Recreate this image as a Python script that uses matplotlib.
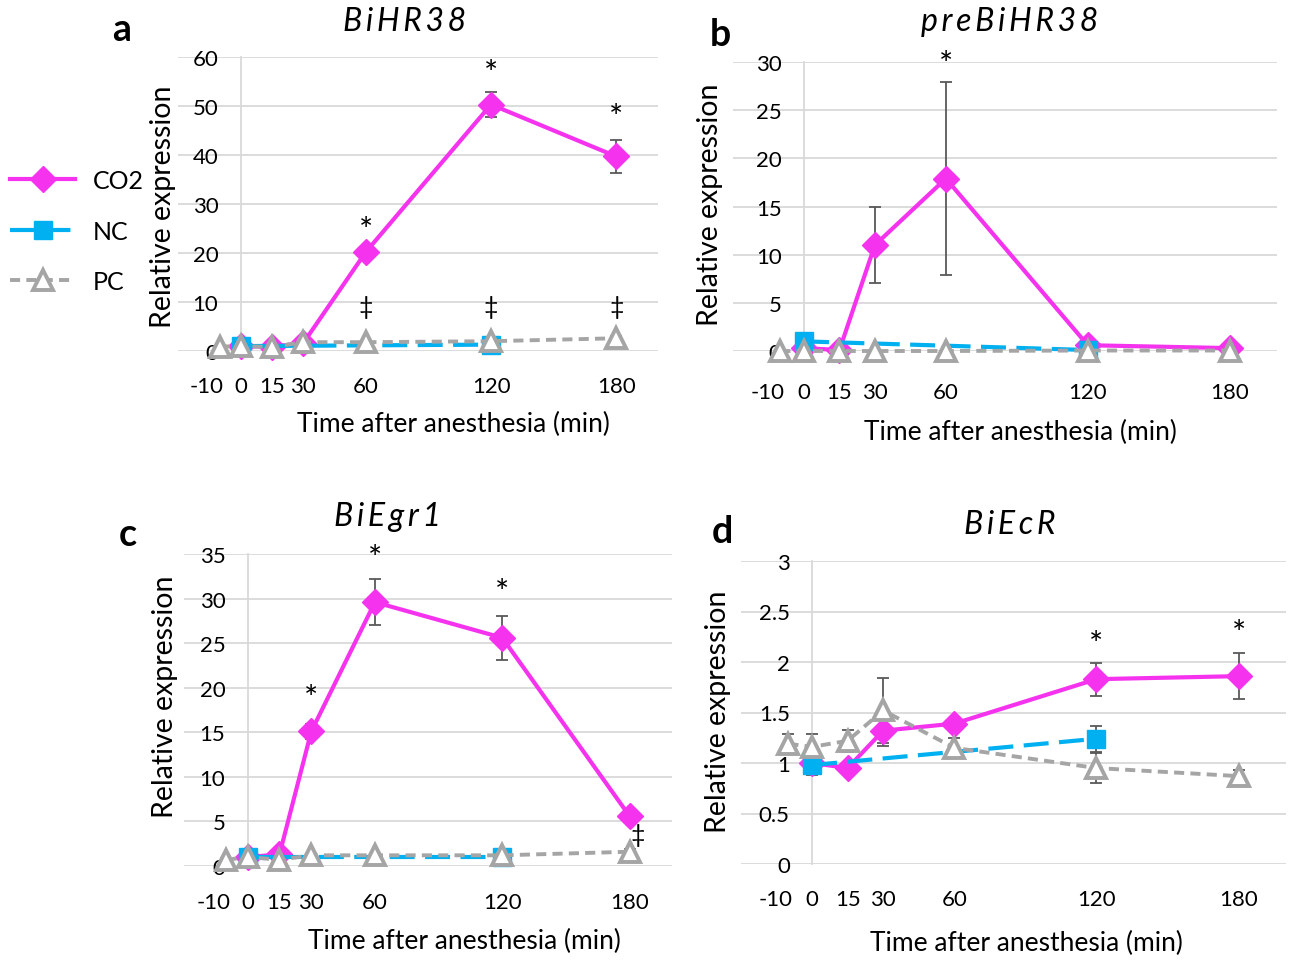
import matplotlib.pyplot as plt
from matplotlib.ticker import FuncFormatter
from matplotlib.transforms import ScaledTranslation

plt.rcParams['font.family'] = ['Lato', 'DejaVu Sans']
plt.rcParams['axes.unicode_minus'] = False

minutes = [-10, 0, 15, 30, 60, 120, 180]
co2_min = [0, 15, 30, 60, 120, 180]
nc_min = [0, 120]

# a  BiHR38
hr38_co2 = [1.0, 0.9, 1.6, 20.2, 50.3, 39.7]
hr38_co2_err = [0.3, 0.3, 0.5, 1.0, 2.6, 3.3]
hr38_nc = [1.0, 1.3]
hr38_nc_err = [0.2, 0.4]
hr38_pc = [0.9, 1.0, 0.8, 1.8, 1.8, 2.0, 2.6]
hr38_pc_err = [0.2, 0.2, 0.2, 0.3, 0.3, 0.3, 0.4]

# b  preBiHR38
pre_co2 = [0.3, 0.1, 11.0, 17.9, 0.6, 0.3]
pre_co2_err = [0.1, 0.1, 3.9, 10.0, 0.2, 0.1]
pre_nc = [1.0, 0.1]
pre_nc_err = [0.2, 0.05]
pre_pc = [0.0, 0.0, 0.0, 0.0, 0.0, 0.05, 0.05]
pre_pc_err = [0.05, 0.05, 0.05, 0.05, 0.05, 0.05, 0.05]

# c  BiEgr1
egr_co2 = [1.0, 1.3, 15.1, 29.6, 25.6, 5.6]
egr_co2_err = [0.2, 0.5, 0.8, 2.6, 2.5, 0.6]
egr_nc = [1.0, 1.0]
egr_nc_err = [0.2, 0.2]
egr_pc = [0.7, 1.0, 0.7, 1.2, 1.2, 1.2, 1.6]
egr_pc_err = [0.2, 0.2, 0.2, 0.2, 0.2, 0.2, 0.3]

# d  BiEcR
ecr_co2 = [1.0, 0.95, 1.32, 1.39, 1.83, 1.86]
ecr_co2_err = [0.1, 0.05, 0.15, 0.06, 0.165, 0.23]
ecr_nc = [0.98, 1.24]
ecr_nc_err = [0.1, 0.13]
ecr_pc = [1.19, 1.16, 1.22, 1.52, 1.15, 0.95, 0.87]
ecr_pc_err = [0.1, 0.13, 0.11, 0.32, 0.1, 0.15, 0.06]

titles = ['BiHR38', 'preBiHR38', 'BiEgr1', 'BiEcR']
letters = ['a', 'b', 'c', 'd']
y_max = [60, 30, 35, 3]
y_step = [10, 5, 5, 0.5]

# significance marks: (x, y, symbol)
marks = [
    [(60, 24.5, '*'), (120, 56.5, '*'), (180, 47.5, '*'),
     (60, 9, '‡'), (120, 9, '‡'), (180, 9, '‡')],
    [(60, 29.7, '*')],
    [(30, 18.7, '*'), (60, 34.4, '*'), (120, 30.6, '*'), (184, 3.5, '‡')],
    [(120, 2.17, '*'), (180, 2.28, '*')],
]

series = [
    (hr38_co2, hr38_co2_err, hr38_nc, hr38_nc_err, hr38_pc, hr38_pc_err),
    (pre_co2, pre_co2_err, pre_nc, pre_nc_err, pre_pc, pre_pc_err),
    (egr_co2, egr_co2_err, egr_nc, egr_nc_err, egr_pc, egr_pc_err),
    (ecr_co2, ecr_co2_err, ecr_nc, ecr_nc_err, ecr_pc, ecr_pc_err),
]

magenta = '#f533ee'
blue = '#00b0f0'
gray = '#a5a5a5'
err_col = '#595959'
grid_col = '#d9d9d9'

W, H = 1293, 962
# plot areas in pixels: left, right, top, bottom
boxes = [(178, 658, 58, 352), (733, 1277, 63, 352),
         (184, 672, 555, 867), (741, 1286, 562, 865)]
title_pos = [(405, 22), (1010, 22), (388, 517), (1010, 525)]
letter_pos = [(122, 30), (720, 35), (128, 535), (722, 532)]
xlab_pos = [(0.573, -0.245), (0.528, -0.28), (0.575, -0.238), (0.524, -0.26)]
ylab_pos = [(-0.031, 0.493), (-0.042, 0.509), (-0.039, 0.545), (-0.042, 0.505)]
xpad = [18, 22, 19, 18]

fig = plt.figure(figsize=(W / 100, H / 100), dpi=100)
shift_left = ScaledTranslation(-0.13, 0, fig.dpi_scale_trans)

for i in range(4):
    l, r, t, b = boxes[i]
    ax = fig.add_axes([l / W, 1 - b / H, (r - l) / W, (b - t) / H])
    co2, co2_err, nc, nc_err, pc, pc_err = series[i]

    ax.errorbar(co2_min, co2, yerr=co2_err, fmt='none', ecolor=err_col,
                elinewidth=1.3, capsize=4, capthick=1.3, zorder=3, clip_on=False)
    ax.errorbar(nc_min, nc, yerr=nc_err, fmt='none', ecolor=err_col,
                elinewidth=1.3, capsize=4, capthick=1.3, zorder=3, clip_on=False)
    ax.errorbar(minutes, pc, yerr=pc_err, fmt='none', ecolor=err_col,
                elinewidth=1.3, capsize=4, capthick=1.3, zorder=3, clip_on=False)

    ax.plot(co2_min, co2, color=magenta, lw=3, marker='D', ms=13,
            label='CO2', zorder=4, clip_on=False)
    ax.plot(nc_min, nc, color=blue, lw=3, dashes=(6, 2.5), marker='s', ms=13,
            label='NC', zorder=5, clip_on=False)
    ax.plot(minutes, pc, color=gray, lw=2.8, dashes=(2.6, 1.6), marker='^',
            ms=14, mfc='white', mec=gray, mew=2.8, label='PC', zorder=6,
            clip_on=False)

    ax.set_xlim(-30, 200)
    ax.set_ylim(0, y_max[i])
    ax.set_xticks(minutes)
    n = int(round(y_max[i] / y_step[i]))
    ax.set_yticks([k * y_step[i] for k in range(n + 1)])
    ax.yaxis.set_major_formatter(FuncFormatter(lambda v, p: '{:g}'.format(v)))
    ax.grid(axis='y', color=grid_col, lw=1.3, zorder=0)
    ax.set_axisbelow(True)
    for s in ['top', 'right', 'bottom']:
        ax.spines[s].set_visible(False)
    ax.spines['left'].set_position(('data', 0))
    ax.spines['left'].set_color(grid_col)
    ax.spines['left'].set_linewidth(1.3)
    ax.tick_params(axis='y', length=0, pad=16, labelsize=16)
    ax.tick_params(axis='x', length=0, pad=xpad[i], labelsize=16)
    # the -10 label sits a little to the left of its point, as in the original
    lab = ax.get_xticklabels()[0]
    lab.set_transform(lab.get_transform() + shift_left)

    ax.set_xlabel('Time after anesthesia (min)', fontsize=19)
    ax.xaxis.set_label_coords(*xlab_pos[i])
    ax.xaxis.label.set_va('center')
    ax.set_ylabel('Relative expression', fontsize=20.5)
    ax.yaxis.set_label_coords(*ylab_pos[i])
    ax.yaxis.label.set_va('center')

    for mx, my, sym in marks[i]:
        ax.text(mx, my, sym, ha='center', va='center', zorder=7,
                fontsize=24 if sym == '*' else 18)

    tx, ty = title_pos[i]
    fig.text(tx / W, 1 - ty / H, '\u2009'.join(titles[i]), style='italic',
             fontsize=23, ha='center', va='center')
    lx, ly = letter_pos[i]
    fig.text(lx / W, 1 - ly / H, letters[i], fontweight='bold', fontsize=27,
             ha='center', va='center')

    if i == 0:
        handles, labels = ax.get_legend_handles_labels()

fig.legend(handles, labels, loc='upper left', bbox_to_anchor=(0.0, 1 - 160 / H),
           frameon=False, fontsize=18, handlelength=2.6, handletextpad=0.7,
           labelspacing=1.1, borderaxespad=0)

fig.savefig('out.png', dpi=100)
